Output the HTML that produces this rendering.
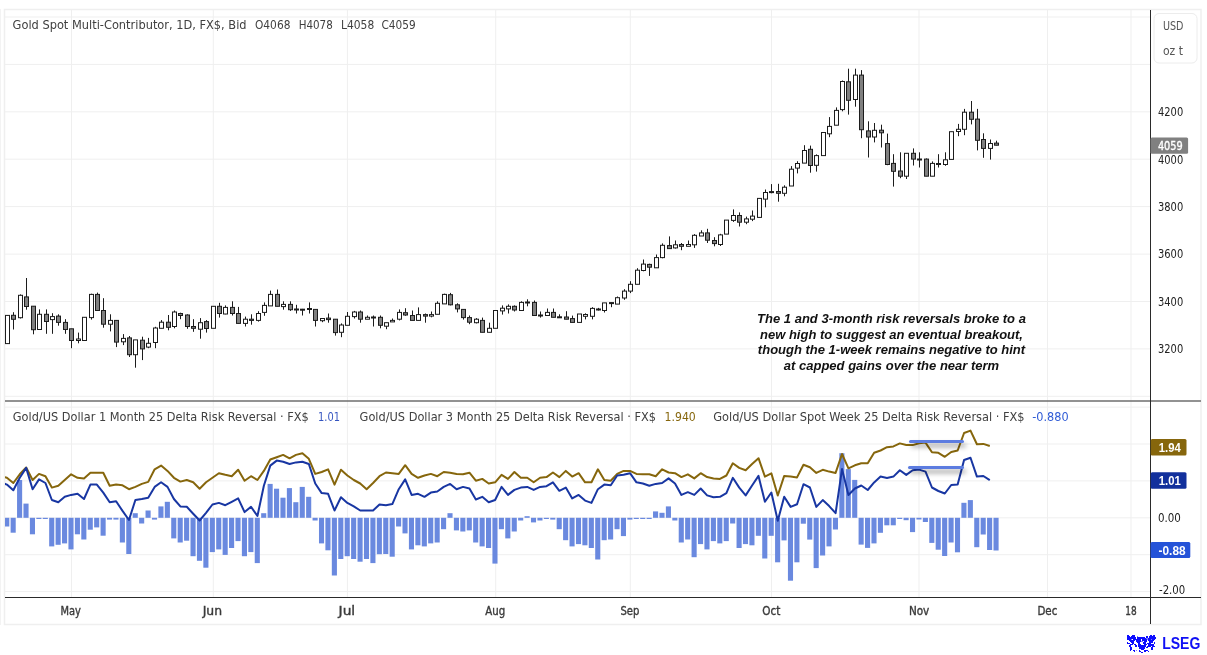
<!DOCTYPE html><html><head><meta charset="utf-8"><title>Gold Spot chart</title>
<style>html,body{margin:0;padding:0;background:#fff;width:1207px;height:655px;overflow:hidden}svg{display:block}text{white-space:pre}</style></head><body>
<svg width="1207" height="655" viewBox="0 0 1207 655">
<defs><clipPath id="cp1"><rect x="5" y="10" width="1145" height="390"/></clipPath><clipPath id="cp2"><rect x="5" y="402" width="1145" height="195"/></clipPath><filter id="sh" filterUnits="userSpaceOnUse" x="890" y="425" width="100" height="60"><feDropShadow dx="2" dy="4" stdDeviation="2.5" flood-color="#000" flood-opacity="0.42"/></filter></defs>
<rect x="0" y="0" width="1207" height="655" fill="#fff"/>
<line x1="0.5" y1="9" x2="0.5" y2="625" stroke="#f3f3f3" stroke-width="1"/>
<rect x="4.5" y="9.5" width="1196.5" height="615" fill="none" stroke="#efefef" stroke-width="1.5"/>
<g stroke="#efefef" stroke-width="1"><line x1="5" y1="17.0" x2="1150" y2="17.0"/><line x1="5" y1="64.4" x2="1150" y2="64.4"/><line x1="5" y1="111.8" x2="1150" y2="111.8"/><line x1="5" y1="159.2" x2="1150" y2="159.2"/><line x1="5" y1="206.6" x2="1150" y2="206.6"/><line x1="5" y1="254.1" x2="1150" y2="254.1"/><line x1="5" y1="301.5" x2="1150" y2="301.5"/><line x1="5" y1="348.9" x2="1150" y2="348.9"/><line x1="5" y1="396.3" x2="1150" y2="396.3"/><line x1="5" y1="407.1" x2="1150" y2="407.1"/><line x1="5" y1="444.0" x2="1150" y2="444.0"/><line x1="5" y1="480.9" x2="1150" y2="480.9"/><line x1="5" y1="517.8" x2="1150" y2="517.8"/><line x1="5" y1="554.7" x2="1150" y2="554.7"/><line x1="5" y1="591.6" x2="1150" y2="591.6"/><line x1="71.5" y1="10" x2="71.5" y2="597"/><line x1="213.3" y1="10" x2="213.3" y2="597"/><line x1="347.4" y1="10" x2="347.4" y2="597"/><line x1="495.7" y1="10" x2="495.7" y2="597"/><line x1="630.3" y1="10" x2="630.3" y2="597"/><line x1="771.5" y1="10" x2="771.5" y2="597"/><line x1="919" y1="10" x2="919" y2="597"/><line x1="1047.5" y1="10" x2="1047.5" y2="597"/><line x1="1131" y1="10" x2="1131" y2="597"/></g>
<g clip-path="url(#cp1)" stroke="#1c1c1c" stroke-width="1"><line x1="7.5" y1="315.0" x2="7.5" y2="344.0"/><line x1="13.5" y1="312.2" x2="13.5" y2="329.5"/><line x1="20.5" y1="294.4" x2="20.5" y2="318.5"/><line x1="26.5" y1="278.0" x2="26.5" y2="309.7"/><line x1="33.5" y1="306.2" x2="33.5" y2="334.3"/><line x1="39.5" y1="309.4" x2="39.5" y2="329.5"/><line x1="46.5" y1="309.4" x2="46.5" y2="333.8"/><line x1="52.5" y1="313.2" x2="52.5" y2="333.8"/><line x1="58.5" y1="314.3" x2="58.5" y2="325.7"/><line x1="65.5" y1="319.2" x2="65.5" y2="333.8"/><line x1="71.5" y1="328.8" x2="71.5" y2="348.2"/><line x1="78.5" y1="332.6" x2="78.5" y2="343.3"/><line x1="84.5" y1="317.0" x2="84.5" y2="340.5"/><line x1="91.5" y1="293.7" x2="91.5" y2="319.6"/><line x1="97.5" y1="292.6" x2="97.5" y2="311.0"/><line x1="103.5" y1="298.2" x2="103.5" y2="327.7"/><line x1="110.5" y1="314.3" x2="110.5" y2="331.4"/><line x1="116.5" y1="320.4" x2="116.5" y2="347.1"/><line x1="123.5" y1="334.1" x2="123.5" y2="345.1"/><line x1="129.5" y1="336.0" x2="129.5" y2="357.0"/><line x1="135.5" y1="339.9" x2="135.5" y2="367.7"/><line x1="142.5" y1="336.7" x2="142.5" y2="360.1"/><line x1="148.5" y1="337.9" x2="148.5" y2="348.2"/><line x1="155.5" y1="326.8" x2="155.5" y2="348.2"/><line x1="161.5" y1="320.1" x2="161.5" y2="328.3"/><line x1="168.5" y1="315.0" x2="168.5" y2="330.3"/><line x1="174.5" y1="310.5" x2="174.5" y2="328.3"/><line x1="180.5" y1="312.7" x2="180.5" y2="319.2"/><line x1="187.5" y1="314.3" x2="187.5" y2="328.8"/><line x1="193.5" y1="319.2" x2="193.5" y2="331.8"/><line x1="200.5" y1="318.1" x2="200.5" y2="338.7"/><line x1="206.5" y1="320.1" x2="206.5" y2="332.6"/><line x1="213.5" y1="306.0" x2="213.5" y2="328.3"/><line x1="219.5" y1="302.8" x2="219.5" y2="317.6"/><line x1="225.5" y1="305.4" x2="225.5" y2="314.3"/><line x1="232.5" y1="301.3" x2="232.5" y2="315.5"/><line x1="238.5" y1="306.9" x2="238.5" y2="323.4"/><line x1="245.5" y1="316.6" x2="245.5" y2="326.5"/><line x1="251.5" y1="314.3" x2="251.5" y2="324.7"/><line x1="258.5" y1="311.2" x2="258.5" y2="321.6"/><line x1="264.5" y1="302.4" x2="264.5" y2="315.8"/><line x1="270.5" y1="290.6" x2="270.5" y2="305.9"/><line x1="277.5" y1="289.5" x2="277.5" y2="306.3"/><line x1="283.5" y1="301.3" x2="283.5" y2="309.7"/><line x1="290.5" y1="301.3" x2="290.5" y2="310.9"/><line x1="296.5" y1="304.8" x2="296.5" y2="313.5"/><line x1="302.5" y1="308.9" x2="302.5" y2="315.5"/><line x1="309.5" y1="302.4" x2="309.5" y2="313.5"/><line x1="315.5" y1="309.4" x2="315.5" y2="326.5"/><line x1="322.5" y1="318.5" x2="322.5" y2="322.2"/><line x1="328.5" y1="313.5" x2="328.5" y2="322.7"/><line x1="335.5" y1="319.2" x2="335.5" y2="335.6"/><line x1="341.5" y1="323.4" x2="341.5" y2="337.2"/><line x1="347.5" y1="312.0" x2="347.5" y2="325.3"/><line x1="354.5" y1="310.9" x2="354.5" y2="318.5"/><line x1="360.5" y1="310.5" x2="360.5" y2="322.7"/><line x1="367.5" y1="315.5" x2="367.5" y2="319.2"/><line x1="373.5" y1="315.5" x2="373.5" y2="326.5"/><line x1="380.5" y1="315.5" x2="380.5" y2="328.3"/><line x1="386.5" y1="322.7" x2="386.5" y2="329.2"/><line x1="392.5" y1="318.5" x2="392.5" y2="321.9"/><line x1="399.5" y1="309.4" x2="399.5" y2="320.4"/><line x1="405.5" y1="308.2" x2="405.5" y2="315.8"/><line x1="412.5" y1="310.5" x2="412.5" y2="320.4"/><line x1="418.5" y1="307.4" x2="418.5" y2="320.4"/><line x1="425.5" y1="313.5" x2="425.5" y2="322.7"/><line x1="431.5" y1="311.5" x2="431.5" y2="317.3"/><line x1="437.5" y1="301.3" x2="437.5" y2="314.3"/><line x1="444.5" y1="293.7" x2="444.5" y2="303.9"/><line x1="450.5" y1="292.9" x2="450.5" y2="305.4"/><line x1="457.5" y1="303.3" x2="457.5" y2="312.4"/><line x1="463.5" y1="309.4" x2="463.5" y2="319.6"/><line x1="469.5" y1="315.5" x2="469.5" y2="324.2"/><line x1="476.5" y1="318.1" x2="476.5" y2="323.4"/><line x1="482.5" y1="317.6" x2="482.5" y2="332.3"/><line x1="489.5" y1="322.7" x2="489.5" y2="332.3"/><line x1="495.5" y1="310.5" x2="495.5" y2="328.3"/><line x1="502.5" y1="305.4" x2="502.5" y2="314.6"/><line x1="508.5" y1="304.4" x2="508.5" y2="313.5"/><line x1="514.5" y1="305.4" x2="514.5" y2="311.5"/><line x1="521.5" y1="301.3" x2="521.5" y2="310.5"/><line x1="527.5" y1="299.3" x2="527.5" y2="306.3"/><line x1="534.5" y1="300.5" x2="534.5" y2="315.5"/><line x1="540.5" y1="311.5" x2="540.5" y2="317.6"/><line x1="547.5" y1="308.5" x2="547.5" y2="315.5"/><line x1="553.5" y1="308.5" x2="553.5" y2="317.3"/><line x1="559.5" y1="314.3" x2="559.5" y2="317.6"/><line x1="566.5" y1="311.2" x2="566.5" y2="319.2"/><line x1="572.5" y1="315.6" x2="572.5" y2="322.4"/><line x1="579.5" y1="314.0" x2="579.5" y2="322.4"/><line x1="585.5" y1="313.3" x2="585.5" y2="319.4"/><line x1="592.5" y1="307.2" x2="592.5" y2="319.4"/><line x1="598.5" y1="307.9" x2="598.5" y2="310.5"/><line x1="604.5" y1="302.9" x2="604.5" y2="312.5"/><line x1="611.5" y1="302.6" x2="611.5" y2="307.2"/><line x1="617.5" y1="296.5" x2="617.5" y2="304.1"/><line x1="624.5" y1="289.2" x2="624.5" y2="299.8"/><line x1="630.5" y1="281.2" x2="630.5" y2="293.1"/><line x1="637.5" y1="268.2" x2="637.5" y2="284.3"/><line x1="643.5" y1="259.5" x2="643.5" y2="271.3"/><line x1="649.5" y1="263.7" x2="649.5" y2="275.9"/><line x1="656.5" y1="254.5" x2="656.5" y2="267.8"/><line x1="662.5" y1="243.4" x2="662.5" y2="258.3"/><line x1="669.5" y1="236.4" x2="669.5" y2="248.6"/><line x1="675.5" y1="240.5" x2="675.5" y2="248.6"/><line x1="681.5" y1="243.0" x2="681.5" y2="250.2"/><line x1="688.5" y1="240.5" x2="688.5" y2="246.3"/><line x1="694.5" y1="234.1" x2="694.5" y2="247.9"/><line x1="701.5" y1="230.3" x2="701.5" y2="236.0"/><line x1="707.5" y1="228.8" x2="707.5" y2="243.0"/><line x1="714.5" y1="237.2" x2="714.5" y2="246.3"/><line x1="720.5" y1="233.8" x2="720.5" y2="246.0"/><line x1="726.5" y1="220.1" x2="726.5" y2="234.1"/><line x1="733.5" y1="209.4" x2="733.5" y2="221.9"/><line x1="739.5" y1="212.4" x2="739.5" y2="226.5"/><line x1="746.5" y1="216.6" x2="746.5" y2="224.2"/><line x1="752.5" y1="210.5" x2="752.5" y2="221.1"/><line x1="759.5" y1="198.2" x2="759.5" y2="217.4"/><line x1="765.5" y1="189.5" x2="765.5" y2="207.3"/><line x1="771.5" y1="184.1" x2="771.5" y2="193.3"/><line x1="778.5" y1="183.8" x2="778.5" y2="201.7"/><line x1="784.5" y1="185.3" x2="784.5" y2="196.3"/><line x1="791.5" y1="166.1" x2="791.5" y2="186.0"/><line x1="797.5" y1="161.2" x2="797.5" y2="173.4"/><line x1="804.5" y1="145.2" x2="804.5" y2="163.1"/><line x1="810.5" y1="145.6" x2="810.5" y2="172.7"/><line x1="816.5" y1="154.4" x2="816.5" y2="171.6"/><line x1="823.5" y1="132.5" x2="823.5" y2="155.6"/><line x1="829.5" y1="117.1" x2="829.5" y2="137.2"/><line x1="836.5" y1="107.4" x2="836.5" y2="125.2"/><line x1="842.5" y1="80.5" x2="842.5" y2="111.3"/><line x1="848.5" y1="68.7" x2="848.5" y2="114.6"/><line x1="855.5" y1="68.7" x2="855.5" y2="106.7"/><line x1="861.5" y1="70.1" x2="861.5" y2="138.2"/><line x1="868.5" y1="121.3" x2="868.5" y2="157.5"/><line x1="874.5" y1="123.0" x2="874.5" y2="142.4"/><line x1="881.5" y1="124.7" x2="881.5" y2="147.5"/><line x1="887.5" y1="133.6" x2="887.5" y2="165.2"/><line x1="893.5" y1="154.2" x2="893.5" y2="186.6"/><line x1="900.5" y1="152.3" x2="900.5" y2="178.2"/><line x1="906.5" y1="153.3" x2="906.5" y2="179.0"/><line x1="913.5" y1="148.4" x2="913.5" y2="165.5"/><line x1="919.5" y1="152.3" x2="919.5" y2="167.5"/><line x1="926.5" y1="158.4" x2="926.5" y2="176.2"/><line x1="932.5" y1="161.4" x2="932.5" y2="176.2"/><line x1="938.5" y1="154.2" x2="938.5" y2="167.5"/><line x1="945.5" y1="152.3" x2="945.5" y2="165.8"/><line x1="951.5" y1="131.7" x2="951.5" y2="159.4"/><line x1="958.5" y1="123.9" x2="958.5" y2="136.2"/><line x1="964.5" y1="108.9" x2="964.5" y2="135.2"/><line x1="971.5" y1="101.0" x2="971.5" y2="124.4"/><line x1="977.5" y1="108.9" x2="977.5" y2="150.4"/><line x1="983.5" y1="133.3" x2="983.5" y2="157.8"/><line x1="990.5" y1="139.5" x2="990.5" y2="159.6"/><line x1="996.5" y1="140.7" x2="996.5" y2="145.4"/><rect x="5.5" y="315.4" width="4" height="28.2" fill="#fff"/><rect x="11.5" y="315.3" width="4" height="4.0" fill="#808080"/><rect x="18.5" y="295.3" width="4" height="22.4" fill="#fff"/><rect x="24.5" y="296.9" width="4" height="9.6" fill="#808080"/><rect x="31.5" y="306.2" width="4" height="23.5" fill="#808080"/><rect x="37.5" y="314.3" width="4" height="15.2" fill="#fff"/><rect x="44.5" y="314.3" width="4" height="7.2" fill="#808080"/><rect x="50.5" y="316.6" width="4" height="3.0" fill="#fff"/><rect x="56.5" y="316.1" width="4" height="6.3" fill="#808080"/><rect x="63.5" y="322.4" width="4" height="7.1" fill="#808080"/><rect x="69.5" y="328.8" width="4" height="11.7" fill="#808080"/><rect x="76.5" y="339.0" width="4" height="1.5" fill="#fff"/><rect x="82.5" y="317.3" width="4" height="23.2" fill="#fff"/><rect x="89.5" y="294.4" width="4" height="23.2" fill="#fff"/><rect x="95.5" y="294.4" width="4" height="16.1" fill="#808080"/><rect x="101.5" y="310.5" width="4" height="13.7" fill="#808080"/><rect x="108.5" y="320.4" width="4" height="3.8" fill="#fff"/><rect x="114.5" y="320.4" width="4" height="21.7" fill="#808080"/><rect x="121.5" y="338.4" width="4" height="3.4" fill="#fff"/><rect x="127.5" y="337.9" width="4" height="16.8" fill="#808080"/><rect x="133.5" y="339.9" width="4" height="14.8" fill="#fff"/><rect x="140.5" y="340.2" width="4" height="8.7" fill="#808080"/><rect x="146.5" y="343.3" width="4" height="3.8" fill="#fff"/><rect x="153.5" y="328.0" width="4" height="14.5" fill="#fff"/><rect x="159.5" y="322.2" width="4" height="6.1" fill="#fff"/><rect x="166.5" y="322.2" width="4" height="5.1" fill="#808080"/><rect x="172.5" y="312.0" width="4" height="14.5" fill="#fff"/><rect x="178.5" y="313.5" width="4" height="2.0" fill="#808080"/><rect x="185.5" y="315.0" width="4" height="11.5" fill="#808080"/><rect x="191.5" y="326.5" width="4" height="1.8" fill="#808080"/><rect x="198.5" y="322.7" width="4" height="6.5" fill="#fff"/><rect x="204.5" y="321.6" width="4" height="6.9" fill="#808080"/><rect x="211.5" y="306.3" width="4" height="22.0" fill="#fff"/><rect x="217.5" y="306.3" width="4" height="7.2" fill="#808080"/><rect x="223.5" y="307.4" width="4" height="6.6" fill="#fff"/><rect x="230.5" y="307.4" width="4" height="6.1" fill="#808080"/><rect x="236.5" y="313.5" width="4" height="9.9" fill="#808080"/><rect x="243.5" y="319.2" width="4" height="4.2" fill="#fff"/><rect x="249.5" y="319.2" width="4" height="1.2" fill="#808080"/><rect x="256.5" y="313.5" width="4" height="6.9" fill="#fff"/><rect x="262.5" y="305.4" width="4" height="7.0" fill="#fff"/><rect x="268.5" y="294.4" width="4" height="11.5" fill="#fff"/><rect x="275.5" y="294.4" width="4" height="11.9" fill="#808080"/><rect x="281.5" y="304.4" width="4" height="2.2" fill="#fff"/><rect x="288.5" y="304.4" width="4" height="5.3" fill="#808080"/><rect x="294.5" y="309.0" width="4" height="1.0" fill="#808080"/><rect x="300.5" y="309.2" width="4" height="1.0" fill="#808080"/><rect x="307.5" y="308.5" width="4" height="1.0" fill="#808080"/><rect x="313.5" y="309.4" width="4" height="11.0" fill="#808080"/><rect x="320.5" y="318.5" width="4" height="2.2" fill="#fff"/><rect x="326.5" y="318.1" width="4" height="1.5" fill="#808080"/><rect x="333.5" y="319.2" width="4" height="13.4" fill="#808080"/><rect x="339.5" y="325.0" width="4" height="7.3" fill="#fff"/><rect x="345.5" y="316.3" width="4" height="9.0" fill="#fff"/><rect x="352.5" y="312.0" width="4" height="4.6" fill="#fff"/><rect x="358.5" y="312.0" width="4" height="7.2" fill="#808080"/><rect x="365.5" y="317.3" width="4" height="1.9" fill="#fff"/><rect x="371.5" y="317.0" width="4" height="1.0" fill="#808080"/><rect x="378.5" y="317.3" width="4" height="8.0" fill="#808080"/><rect x="384.5" y="322.7" width="4" height="3.5" fill="#fff"/><rect x="390.5" y="320.4" width="4" height="1.5" fill="#fff"/><rect x="397.5" y="312.4" width="4" height="6.8" fill="#fff"/><rect x="403.5" y="312.7" width="4" height="2.3" fill="#808080"/><rect x="410.5" y="315.5" width="4" height="4.9" fill="#808080"/><rect x="416.5" y="314.6" width="4" height="5.8" fill="#fff"/><rect x="423.5" y="314.6" width="4" height="1.5" fill="#808080"/><rect x="429.5" y="314.6" width="4" height="1.5" fill="#fff"/><rect x="435.5" y="303.3" width="4" height="11.0" fill="#fff"/><rect x="442.5" y="294.4" width="4" height="9.5" fill="#fff"/><rect x="448.5" y="294.7" width="4" height="10.1" fill="#808080"/><rect x="455.5" y="304.8" width="4" height="4.1" fill="#808080"/><rect x="461.5" y="309.4" width="4" height="8.2" fill="#808080"/><rect x="467.5" y="317.6" width="4" height="4.6" fill="#808080"/><rect x="474.5" y="319.2" width="4" height="3.5" fill="#fff"/><rect x="480.5" y="320.4" width="4" height="11.9" fill="#808080"/><rect x="487.5" y="328.3" width="4" height="4.0" fill="#fff"/><rect x="493.5" y="310.5" width="4" height="17.8" fill="#fff"/><rect x="500.5" y="308.2" width="4" height="2.7" fill="#fff"/><rect x="506.5" y="306.3" width="4" height="2.6" fill="#fff"/><rect x="512.5" y="306.3" width="4" height="3.7" fill="#808080"/><rect x="519.5" y="302.4" width="4" height="8.1" fill="#fff"/><rect x="525.5" y="302.0" width="4" height="1.0" fill="#808080"/><rect x="532.5" y="302.4" width="4" height="13.1" fill="#808080"/><rect x="538.5" y="315.0" width="4" height="1.0" fill="#808080"/><rect x="545.5" y="312.4" width="4" height="3.1" fill="#fff"/><rect x="551.5" y="312.4" width="4" height="4.9" fill="#808080"/><rect x="557.5" y="316.8" width="4" height="1.0" fill="#808080"/><rect x="564.5" y="317.0" width="4" height="2.2" fill="#808080"/><rect x="570.5" y="318.6" width="4" height="3.8" fill="#808080"/><rect x="577.5" y="314.0" width="4" height="8.4" fill="#fff"/><rect x="583.5" y="314.5" width="4" height="1.8" fill="#fff"/><rect x="590.5" y="308.4" width="4" height="7.9" fill="#fff"/><rect x="596.5" y="309.0" width="4" height="1.0" fill="#808080"/><rect x="602.5" y="302.9" width="4" height="7.6" fill="#fff"/><rect x="609.5" y="302.6" width="4" height="1.0" fill="#808080"/><rect x="615.5" y="297.7" width="4" height="6.4" fill="#fff"/><rect x="622.5" y="291.1" width="4" height="6.9" fill="#fff"/><rect x="628.5" y="284.3" width="4" height="6.8" fill="#fff"/><rect x="635.5" y="270.2" width="4" height="14.1" fill="#fff"/><rect x="641.5" y="264.1" width="4" height="6.4" fill="#fff"/><rect x="647.5" y="264.4" width="4" height="2.8" fill="#808080"/><rect x="654.5" y="257.6" width="4" height="10.2" fill="#fff"/><rect x="660.5" y="245.3" width="4" height="12.3" fill="#fff"/><rect x="667.5" y="245.6" width="4" height="3.0" fill="#808080"/><rect x="673.5" y="244.8" width="4" height="3.1" fill="#fff"/><rect x="679.5" y="244.5" width="4" height="1.8" fill="#808080"/><rect x="686.5" y="244.5" width="4" height="1.8" fill="#fff"/><rect x="692.5" y="235.3" width="4" height="9.5" fill="#fff"/><rect x="699.5" y="232.9" width="4" height="3.1" fill="#fff"/><rect x="705.5" y="232.9" width="4" height="7.3" fill="#808080"/><rect x="712.5" y="240.5" width="4" height="3.1" fill="#808080"/><rect x="718.5" y="234.9" width="4" height="9.6" fill="#fff"/><rect x="724.5" y="220.1" width="4" height="14.0" fill="#fff"/><rect x="731.5" y="215.5" width="4" height="4.9" fill="#fff"/><rect x="737.5" y="215.5" width="4" height="6.7" fill="#808080"/><rect x="744.5" y="218.9" width="4" height="3.3" fill="#fff"/><rect x="750.5" y="216.1" width="4" height="3.1" fill="#fff"/><rect x="757.5" y="198.4" width="4" height="19.0" fill="#fff"/><rect x="763.5" y="192.5" width="4" height="6.6" fill="#fff"/><rect x="769.5" y="191.6" width="4" height="1.0" fill="#808080"/><rect x="776.5" y="191.5" width="4" height="1.8" fill="#808080"/><rect x="782.5" y="187.2" width="4" height="6.1" fill="#fff"/><rect x="789.5" y="169.2" width="4" height="16.8" fill="#fff"/><rect x="795.5" y="163.5" width="4" height="4.6" fill="#fff"/><rect x="802.5" y="150.5" width="4" height="12.6" fill="#fff"/><rect x="808.5" y="149.3" width="4" height="16.2" fill="#808080"/><rect x="814.5" y="155.6" width="4" height="9.7" fill="#fff"/><rect x="821.5" y="132.5" width="4" height="23.1" fill="#fff"/><rect x="827.5" y="126.4" width="4" height="7.4" fill="#fff"/><rect x="834.5" y="110.4" width="4" height="14.8" fill="#fff"/><rect x="840.5" y="81.5" width="4" height="28.1" fill="#fff"/><rect x="846.5" y="81.8" width="4" height="18.5" fill="#808080"/><rect x="853.5" y="75.1" width="4" height="24.4" fill="#fff"/><rect x="859.5" y="75.1" width="4" height="54.6" fill="#808080"/><rect x="866.5" y="130.9" width="4" height="6.1" fill="#808080"/><rect x="872.5" y="130.3" width="4" height="6.7" fill="#fff"/><rect x="879.5" y="130.2" width="4" height="2.6" fill="#808080"/><rect x="885.5" y="143.6" width="4" height="20.9" fill="#808080"/><rect x="891.5" y="163.4" width="4" height="7.9" fill="#808080"/><rect x="898.5" y="171.0" width="4" height="5.2" fill="#808080"/><rect x="904.5" y="153.3" width="4" height="22.9" fill="#fff"/><rect x="911.5" y="153.3" width="4" height="5.8" fill="#808080"/><rect x="917.5" y="159.0" width="4" height="1.0" fill="#808080"/><rect x="924.5" y="159.1" width="4" height="17.1" fill="#808080"/><rect x="930.5" y="163.4" width="4" height="12.8" fill="#fff"/><rect x="936.5" y="163.5" width="4" height="1.0" fill="#808080"/><rect x="943.5" y="159.8" width="4" height="4.7" fill="#fff"/><rect x="949.5" y="131.7" width="4" height="27.7" fill="#fff"/><rect x="956.5" y="129.3" width="4" height="2.2" fill="#fff"/><rect x="962.5" y="112.2" width="4" height="17.1" fill="#fff"/><rect x="969.5" y="112.2" width="4" height="7.1" fill="#808080"/><rect x="975.5" y="119.1" width="4" height="21.2" fill="#808080"/><rect x="981.5" y="139.5" width="4" height="8.9" fill="#808080"/><rect x="988.5" y="143.5" width="4" height="4.9" fill="#fff"/><rect x="994.5" y="143.1" width="4" height="2.1" fill="#808080"/></g>
<g clip-path="url(#cp2)"><g fill="#6a89df"><rect x="4.20" y="517.8" width="5.1" height="8.7"/><rect x="10.62" y="517.8" width="5.1" height="14.9"/><rect x="17.05" y="480.0" width="5.1" height="37.8"/><rect x="23.47" y="503.6" width="5.1" height="14.2"/><rect x="29.90" y="517.8" width="5.1" height="16.5"/><rect x="36.32" y="517.8" width="5.1" height="1.2"/><rect x="42.74" y="517.8" width="5.1" height="1.2"/><rect x="49.17" y="517.8" width="5.1" height="28.6"/><rect x="55.59" y="517.8" width="5.1" height="27.0"/><rect x="62.02" y="517.8" width="5.1" height="25.6"/><rect x="68.44" y="517.8" width="5.1" height="31.6"/><rect x="74.86" y="517.8" width="5.1" height="16.5"/><rect x="81.29" y="517.8" width="5.1" height="21.7"/><rect x="87.71" y="517.8" width="5.1" height="11.9"/><rect x="94.14" y="517.8" width="5.1" height="9.6"/><rect x="100.56" y="517.8" width="5.1" height="17.9"/><rect x="106.98" y="517.8" width="5.1" height="1.8"/><rect x="113.41" y="517.8" width="5.1" height="1.8"/><rect x="119.83" y="517.8" width="5.1" height="24.7"/><rect x="126.26" y="517.8" width="5.1" height="36.2"/><rect x="132.68" y="513.2" width="5.1" height="4.6"/><rect x="139.10" y="517.8" width="5.1" height="5.7"/><rect x="145.53" y="510.5" width="5.1" height="7.3"/><rect x="151.95" y="517.8" width="5.1" height="1.8"/><rect x="158.38" y="506.4" width="5.1" height="11.4"/><rect x="164.80" y="501.8" width="5.1" height="16.0"/><rect x="171.22" y="517.8" width="5.1" height="20.6"/><rect x="177.65" y="517.8" width="5.1" height="24.7"/><rect x="184.07" y="517.8" width="5.1" height="22.9"/><rect x="190.50" y="517.8" width="5.1" height="38.4"/><rect x="196.92" y="517.8" width="5.1" height="43.0"/><rect x="203.34" y="517.8" width="5.1" height="49.9"/><rect x="209.77" y="517.8" width="5.1" height="34.3"/><rect x="216.19" y="517.8" width="5.1" height="31.6"/><rect x="222.62" y="517.8" width="5.1" height="37.1"/><rect x="229.04" y="517.8" width="5.1" height="30.2"/><rect x="235.46" y="517.8" width="5.1" height="23.3"/><rect x="241.89" y="517.8" width="5.1" height="38.4"/><rect x="248.31" y="517.8" width="5.1" height="34.3"/><rect x="254.74" y="517.8" width="5.1" height="45.3"/><rect x="261.16" y="513.2" width="5.1" height="4.6"/><rect x="267.58" y="483.9" width="5.1" height="33.9"/><rect x="274.01" y="488.7" width="5.1" height="29.1"/><rect x="280.43" y="497.7" width="5.1" height="20.1"/><rect x="286.86" y="488.1" width="5.1" height="29.7"/><rect x="293.28" y="502.2" width="5.1" height="15.6"/><rect x="299.70" y="486.9" width="5.1" height="30.9"/><rect x="306.13" y="496.8" width="5.1" height="21.0"/><rect x="312.55" y="517.8" width="5.1" height="2.7"/><rect x="318.98" y="517.8" width="5.1" height="25.6"/><rect x="325.40" y="517.8" width="5.1" height="32.5"/><rect x="331.82" y="517.8" width="5.1" height="57.7"/><rect x="338.25" y="517.8" width="5.1" height="41.2"/><rect x="344.67" y="517.8" width="5.1" height="38.4"/><rect x="351.10" y="517.8" width="5.1" height="41.2"/><rect x="357.52" y="517.8" width="5.1" height="43.9"/><rect x="363.94" y="517.8" width="5.1" height="41.2"/><rect x="370.37" y="517.8" width="5.1" height="45.3"/><rect x="376.79" y="517.8" width="5.1" height="36.4"/><rect x="383.22" y="517.8" width="5.1" height="36.2"/><rect x="389.64" y="517.8" width="5.1" height="38.9"/><rect x="396.06" y="517.8" width="5.1" height="8.7"/><rect x="402.49" y="517.8" width="5.1" height="15.6"/><rect x="408.91" y="517.8" width="5.1" height="31.6"/><rect x="415.34" y="517.8" width="5.1" height="27.5"/><rect x="421.76" y="517.8" width="5.1" height="28.6"/><rect x="428.18" y="517.8" width="5.1" height="25.6"/><rect x="434.61" y="517.8" width="5.1" height="24.7"/><rect x="441.03" y="517.8" width="5.1" height="11.4"/><rect x="447.46" y="513.2" width="5.1" height="4.6"/><rect x="453.88" y="517.8" width="5.1" height="12.6"/><rect x="460.30" y="517.8" width="5.1" height="13.7"/><rect x="466.73" y="517.8" width="5.1" height="12.6"/><rect x="473.15" y="517.8" width="5.1" height="24.7"/><rect x="479.58" y="517.8" width="5.1" height="28.6"/><rect x="486.00" y="517.8" width="5.1" height="30.2"/><rect x="492.42" y="517.8" width="5.1" height="45.8"/><rect x="498.85" y="517.8" width="5.1" height="11.4"/><rect x="505.27" y="517.8" width="5.1" height="20.6"/><rect x="511.70" y="517.8" width="5.1" height="13.7"/><rect x="518.12" y="517.8" width="5.1" height="2.7"/><rect x="524.54" y="516.2" width="5.1" height="1.6"/><rect x="530.97" y="517.8" width="5.1" height="4.6"/><rect x="537.39" y="517.8" width="5.1" height="2.7"/><rect x="543.82" y="517.8" width="5.1" height="1.2"/><rect x="550.24" y="517.8" width="5.1" height="1.8"/><rect x="556.66" y="517.8" width="5.1" height="11.4"/><rect x="563.09" y="517.8" width="5.1" height="22.4"/><rect x="569.51" y="517.8" width="5.1" height="28.6"/><rect x="575.94" y="517.8" width="5.1" height="26.3"/><rect x="582.36" y="517.8" width="5.1" height="27.5"/><rect x="588.78" y="517.8" width="5.1" height="30.2"/><rect x="595.21" y="517.8" width="5.1" height="41.7"/><rect x="601.63" y="517.8" width="5.1" height="22.4"/><rect x="608.06" y="517.8" width="5.1" height="21.7"/><rect x="614.48" y="517.8" width="5.1" height="11.4"/><rect x="620.90" y="517.8" width="5.1" height="18.3"/><rect x="627.33" y="517.8" width="5.1" height="1.8"/><rect x="633.75" y="517.8" width="5.1" height="1.2"/><rect x="640.18" y="517.8" width="5.1" height="1.2"/><rect x="646.60" y="517.8" width="5.1" height="1.2"/><rect x="653.02" y="511.4" width="5.1" height="6.4"/><rect x="659.45" y="512.8" width="5.1" height="5.0"/><rect x="665.87" y="506.4" width="5.1" height="11.4"/><rect x="672.30" y="517.8" width="5.1" height="2.7"/><rect x="678.72" y="517.8" width="5.1" height="24.7"/><rect x="685.14" y="517.8" width="5.1" height="21.7"/><rect x="691.57" y="517.8" width="5.1" height="39.4"/><rect x="697.99" y="517.8" width="5.1" height="26.3"/><rect x="704.42" y="517.8" width="5.1" height="31.6"/><rect x="710.84" y="517.8" width="5.1" height="23.3"/><rect x="717.26" y="517.8" width="5.1" height="25.6"/><rect x="723.69" y="517.8" width="5.1" height="23.3"/><rect x="730.11" y="517.8" width="5.1" height="5.7"/><rect x="736.54" y="517.8" width="5.1" height="30.2"/><rect x="742.96" y="517.8" width="5.1" height="26.3"/><rect x="749.38" y="517.8" width="5.1" height="27.5"/><rect x="755.81" y="517.8" width="5.1" height="18.0"/><rect x="762.23" y="517.8" width="5.1" height="40.7"/><rect x="768.66" y="517.8" width="5.1" height="18.0"/><rect x="775.08" y="517.8" width="5.1" height="44.5"/><rect x="781.50" y="517.8" width="5.1" height="22.6"/><rect x="787.93" y="517.8" width="5.1" height="62.9"/><rect x="794.35" y="517.8" width="5.1" height="44.5"/><rect x="800.78" y="517.8" width="5.1" height="5.9"/><rect x="807.20" y="517.8" width="5.1" height="21.8"/><rect x="813.62" y="517.8" width="5.1" height="50.3"/><rect x="820.05" y="517.8" width="5.1" height="37.7"/><rect x="826.47" y="517.8" width="5.1" height="28.6"/><rect x="832.90" y="517.8" width="5.1" height="11.7"/><rect x="839.32" y="453.2" width="5.1" height="64.6"/><rect x="845.74" y="469.1" width="5.1" height="48.7"/><rect x="852.17" y="479.9" width="5.1" height="37.9"/><rect x="858.59" y="517.8" width="5.1" height="26.8"/><rect x="865.02" y="517.8" width="5.1" height="30.1"/><rect x="871.44" y="517.8" width="5.1" height="25.6"/><rect x="877.86" y="517.8" width="5.1" height="15.0"/><rect x="884.29" y="517.8" width="5.1" height="7.5"/><rect x="890.71" y="517.8" width="5.1" height="7.5"/><rect x="897.14" y="517.8" width="5.1" height="1.2"/><rect x="903.56" y="517.8" width="5.1" height="2.4"/><rect x="909.98" y="517.8" width="5.1" height="14.3"/><rect x="916.41" y="517.8" width="5.1" height="1.7"/><rect x="922.83" y="517.8" width="5.1" height="4.2"/><rect x="929.26" y="517.8" width="5.1" height="25.1"/><rect x="935.68" y="517.8" width="5.1" height="31.9"/><rect x="942.10" y="517.8" width="5.1" height="38.2"/><rect x="948.53" y="517.8" width="5.1" height="24.7"/><rect x="954.95" y="517.8" width="5.1" height="34.5"/><rect x="961.38" y="502.8" width="5.1" height="15.0"/><rect x="967.80" y="500.1" width="5.1" height="17.7"/><rect x="974.22" y="517.8" width="5.1" height="29.4"/><rect x="980.65" y="517.8" width="5.1" height="16.7"/><rect x="987.07" y="517.8" width="5.1" height="32.2"/><rect x="993.50" y="517.8" width="5.1" height="32.7"/></g><polyline points="0.48,476.0 6.90,477.8 13.32,483.0 19.75,474.3 26.17,467.5 32.60,480.0 39.02,473.9 45.44,476.2 51.87,487.6 58.29,485.8 64.72,480.0 71.14,474.3 77.56,477.8 83.99,478.4 90.41,472.7 96.84,472.7 103.26,472.7 109.68,485.8 116.11,484.6 122.53,485.3 128.96,489.2 135.38,486.9 141.80,483.9 148.23,481.9 154.65,469.3 161.08,465.6 167.50,470.9 173.92,477.8 180.35,481.6 186.77,480.0 193.20,482.3 199.62,488.7 206.04,482.3 212.47,477.8 218.89,473.2 225.32,474.8 231.74,476.2 238.16,469.7 244.59,480.7 251.01,476.2 257.44,480.0 263.86,470.9 270.28,459.5 276.71,457.2 283.13,454.9 289.56,458.3 295.98,454.9 302.40,453.3 308.83,458.8 315.25,473.9 321.68,472.0 328.10,469.3 334.52,484.6 340.95,469.7 347.37,475.5 353.80,480.0 360.22,483.5 366.64,489.2 373.07,483.0 379.49,476.2 385.92,472.5 392.34,473.2 398.76,473.9 405.19,465.2 411.61,473.9 418.04,477.8 424.46,475.5 430.88,473.9 437.31,476.2 443.73,472.0 450.16,472.7 456.58,473.9 463.00,474.3 469.43,472.7 475.85,480.7 482.28,478.9 488.70,483.5 495.12,482.3 501.55,474.8 507.97,478.9 514.40,472.0 520.82,477.8 527.24,477.8 533.67,482.3 540.09,477.8 546.52,477.1 552.94,472.5 559.36,477.1 565.79,470.9 572.21,476.6 578.64,473.2 585.06,482.3 591.48,482.3 597.91,469.3 604.33,480.0 610.76,480.7 617.18,473.9 623.60,470.9 630.03,470.9 636.45,473.9 642.88,474.3 649.30,474.3 655.72,476.2 662.15,469.3 668.57,472.5 675.00,473.2 681.42,477.1 687.84,474.3 694.27,478.4 700.69,473.2 707.12,477.1 713.54,478.4 719.96,478.9 726.39,475.5 732.81,463.3 739.24,467.9 745.66,470.2 752.08,464.0 758.51,458.2 764.93,476.6 771.36,473.4 777.78,495.5 784.20,475.9 790.63,476.6 797.05,477.4 803.48,464.8 809.90,467.3 816.32,472.9 822.75,469.8 829.17,471.6 835.60,472.9 842.02,454.0 848.44,468.3 854.87,465.3 861.29,463.3 867.72,463.3 874.14,452.7 880.56,450.5 886.99,447.2 893.41,446.4 899.84,443.4 906.26,445.0 912.68,445.1 919.11,443.2 925.53,442.6 931.96,452.2 938.38,452.8 944.80,456.8 951.23,452.0 957.65,450.5 964.08,433.0 970.50,430.6 976.92,444.2 983.35,443.9 989.77,446.0" fill="none" stroke="#86660c" stroke-width="2" stroke-linejoin="round"/><polyline points="0.48,482.0 6.90,484.6 13.32,490.3 19.75,477.8 26.17,467.9 32.60,489.2 39.02,479.4 45.44,483.0 51.87,500.0 58.29,502.2 64.72,496.8 71.14,494.9 77.56,493.8 83.99,499.0 90.41,484.6 96.84,484.6 103.26,492.6 109.68,502.2 116.11,501.3 122.53,510.9 128.96,520.0 135.38,500.0 141.80,499.0 148.23,497.7 154.65,486.9 161.08,482.3 167.50,486.9 173.92,499.0 180.35,506.4 186.77,506.8 193.20,513.7 199.62,520.5 206.04,512.8 212.47,504.5 218.89,502.9 225.32,505.2 231.74,501.8 238.16,498.4 244.59,512.1 251.01,506.8 257.44,516.0 263.86,485.8 270.28,465.6 276.71,460.6 283.13,461.7 289.56,464.0 295.98,462.4 302.40,461.7 308.83,464.0 315.25,483.5 321.68,493.1 328.10,493.8 334.52,510.5 340.95,497.2 347.37,502.9 353.80,506.4 360.22,510.5 366.64,510.5 373.07,510.5 379.49,504.5 385.92,505.2 392.34,504.1 398.76,489.2 405.19,479.4 411.61,494.9 418.04,493.8 424.46,496.8 430.88,492.6 437.31,491.5 443.73,486.9 450.16,483.9 456.58,489.2 463.00,486.9 469.43,488.5 475.85,499.5 482.28,496.8 488.70,502.2 495.12,500.0 501.55,486.9 507.97,494.9 514.40,489.9 520.82,487.6 527.24,486.9 533.67,489.9 540.09,486.9 546.52,486.2 552.94,482.3 559.36,490.8 565.79,487.6 572.21,498.4 578.64,494.9 585.06,500.6 591.48,502.9 597.91,489.2 604.33,484.6 610.76,485.3 617.18,475.5 623.60,474.8 630.03,473.2 636.45,482.3 642.88,483.5 649.30,485.8 655.72,483.9 662.15,483.0 668.57,478.4 675.00,483.5 681.42,494.9 687.84,492.2 694.27,494.9 700.69,488.5 707.12,495.4 713.54,497.2 719.96,496.8 726.39,493.1 732.81,477.8 739.24,487.6 745.66,495.4 752.08,485.5 758.51,475.9 764.93,501.8 771.36,492.5 777.78,520.7 784.20,496.8 790.63,506.9 797.05,504.3 803.48,484.2 809.90,487.5 816.32,506.9 822.75,500.1 829.17,506.1 835.60,513.2 842.02,469.1 848.44,495.0 854.87,488.5 861.29,485.5 867.72,490.0 874.14,482.4 880.56,476.6 886.99,477.9 893.41,476.6 899.84,470.3 906.26,474.9 912.68,470.3 919.11,469.6 925.53,471.6 931.96,487.5 938.38,491.0 944.80,493.5 951.23,485.0 957.65,484.6 964.08,460.0 970.50,457.8 976.92,476.6 983.35,476.0 989.77,480.2" fill="none" stroke="#1836a2" stroke-width="2" stroke-linejoin="round"/><g filter="url(#sh)"><line x1="910.5" y1="441.5" x2="962.5" y2="441.5" stroke="#5b7ce0" stroke-width="3" stroke-linecap="round"/></g><g filter="url(#sh)"><line x1="909.5" y1="467.4" x2="962.5" y2="467.4" stroke="#5b7ce0" stroke-width="3" stroke-linecap="round"/></g></g>
<line x1="5" y1="401" x2="1201" y2="401" stroke="#6e6e6e" stroke-width="1.6"/>
<line x1="1150.5" y1="10" x2="1150.5" y2="624" stroke="#2a2a2a" stroke-width="1"/>
<line x1="5" y1="597.5" x2="1201" y2="597.5" stroke="#2a2a2a" stroke-width="1"/>
<text x="12.6" y="29" font-family="'DejaVu Sans Condensed','DejaVu Sans','Liberation Sans',sans-serif" font-size="12.3" fill="#404040" font-weight="normal" font-style="normal" text-anchor="start" textLength="234" lengthAdjust="spacingAndGlyphs">Gold Spot Multi-Contributor, 1D, FX$, Bid</text>
<text x="255" y="29" font-family="'DejaVu Sans Condensed','DejaVu Sans','Liberation Sans',sans-serif" font-size="12.3" fill="#404040" font-weight="normal" font-style="normal" text-anchor="start" textLength="35.4" lengthAdjust="spacingAndGlyphs">O4068</text>
<text x="298.7" y="29" font-family="'DejaVu Sans Condensed','DejaVu Sans','Liberation Sans',sans-serif" font-size="12.3" fill="#404040" font-weight="normal" font-style="normal" text-anchor="start" textLength="34.1" lengthAdjust="spacingAndGlyphs">H4078</text>
<text x="341" y="29" font-family="'DejaVu Sans Condensed','DejaVu Sans','Liberation Sans',sans-serif" font-size="12.3" fill="#404040" font-weight="normal" font-style="normal" text-anchor="start" textLength="33.2" lengthAdjust="spacingAndGlyphs">L4058</text>
<text x="381.5" y="29" font-family="'DejaVu Sans Condensed','DejaVu Sans','Liberation Sans',sans-serif" font-size="12.3" fill="#404040" font-weight="normal" font-style="normal" text-anchor="start" textLength="34.2" lengthAdjust="spacingAndGlyphs">C4059</text>
<text x="12.8" y="420.5" font-family="'DejaVu Sans Condensed','DejaVu Sans','Liberation Sans',sans-serif" font-size="12.3" fill="#404040" font-weight="normal" font-style="normal" text-anchor="start" textLength="295.9" lengthAdjust="spacingAndGlyphs">Gold/US Dollar 1 Month 25 Delta Risk Reversal · FX$</text>
<text x="318" y="420.5" font-family="'DejaVu Sans Condensed','DejaVu Sans','Liberation Sans',sans-serif" font-size="12.3" fill="#3555c0" font-weight="normal" font-style="normal" text-anchor="start" textLength="21.9" lengthAdjust="spacingAndGlyphs">1.01</text>
<text x="359.6" y="420.5" font-family="'DejaVu Sans Condensed','DejaVu Sans','Liberation Sans',sans-serif" font-size="12.3" fill="#404040" font-weight="normal" font-style="normal" text-anchor="start" textLength="296.4" lengthAdjust="spacingAndGlyphs">Gold/US Dollar 3 Month 25 Delta Risk Reversal · FX$</text>
<text x="664.6" y="420.5" font-family="'DejaVu Sans Condensed','DejaVu Sans','Liberation Sans',sans-serif" font-size="12.3" fill="#86660c" font-weight="normal" font-style="normal" text-anchor="start" textLength="31.2" lengthAdjust="spacingAndGlyphs">1.940</text>
<text x="713.2" y="420.5" font-family="'DejaVu Sans Condensed','DejaVu Sans','Liberation Sans',sans-serif" font-size="12.3" fill="#404040" font-weight="normal" font-style="normal" text-anchor="start" textLength="311.4" lengthAdjust="spacingAndGlyphs">Gold/US Dollar Spot Week 25 Delta Risk Reversal · FX$</text>
<text x="1032.2" y="420.5" font-family="'DejaVu Sans Condensed','DejaVu Sans','Liberation Sans',sans-serif" font-size="12.3" fill="#2f5bd6" font-weight="normal" font-style="normal" text-anchor="start" textLength="36.4" lengthAdjust="spacingAndGlyphs">-0.880</text>
<text x="1158" y="116.1" font-family="'DejaVu Sans Condensed','DejaVu Sans','Liberation Sans',sans-serif" font-size="12" fill="#222" font-weight="normal" font-style="normal" text-anchor="start" textLength="25.2" lengthAdjust="spacingAndGlyphs">4200</text>
<text x="1158" y="210.9" font-family="'DejaVu Sans Condensed','DejaVu Sans','Liberation Sans',sans-serif" font-size="12" fill="#222" font-weight="normal" font-style="normal" text-anchor="start" textLength="25.2" lengthAdjust="spacingAndGlyphs">3800</text>
<text x="1158" y="258.4" font-family="'DejaVu Sans Condensed','DejaVu Sans','Liberation Sans',sans-serif" font-size="12" fill="#222" font-weight="normal" font-style="normal" text-anchor="start" textLength="25.2" lengthAdjust="spacingAndGlyphs">3600</text>
<text x="1158" y="305.8" font-family="'DejaVu Sans Condensed','DejaVu Sans','Liberation Sans',sans-serif" font-size="12" fill="#222" font-weight="normal" font-style="normal" text-anchor="start" textLength="25.2" lengthAdjust="spacingAndGlyphs">3400</text>
<text x="1158" y="353.2" font-family="'DejaVu Sans Condensed','DejaVu Sans','Liberation Sans',sans-serif" font-size="12" fill="#222" font-weight="normal" font-style="normal" text-anchor="start" textLength="25.2" lengthAdjust="spacingAndGlyphs">3200</text>
<text x="1158" y="163.5" font-family="'DejaVu Sans Condensed','DejaVu Sans','Liberation Sans',sans-serif" font-size="12" fill="#222" font-weight="normal" font-style="normal" text-anchor="start" textLength="25.2" lengthAdjust="spacingAndGlyphs">4000</text>
<rect x="1154" y="13.5" width="43" height="49.5" rx="5" fill="#fff" stroke="#ececec" stroke-width="1"/>
<text x="1163" y="30" font-family="'DejaVu Sans Condensed','DejaVu Sans','Liberation Sans',sans-serif" font-size="12" fill="#555" font-weight="normal" font-style="normal" text-anchor="start" textLength="20.5" lengthAdjust="spacingAndGlyphs">USD</text>
<text x="1163" y="55" font-family="'DejaVu Sans Condensed','DejaVu Sans','Liberation Sans',sans-serif" font-size="12" fill="#555" font-weight="normal" font-style="normal" text-anchor="start" textLength="20" lengthAdjust="spacingAndGlyphs">oz t</text>
<rect x="1150.5" y="137.5" width="37.6" height="16.2" rx="1.5" fill="#808080"/>
<text x="1157.9" y="150" font-family="'DejaVu Sans Condensed','DejaVu Sans','Liberation Sans',sans-serif" font-size="12" fill="#fff" font-weight="normal" font-style="normal" text-anchor="start" textLength="24.9" lengthAdjust="spacingAndGlyphs" stroke="#fff" stroke-width="0.35">4059</text>
<rect x="1150.7" y="439.1" width="35.8" height="16.3" rx="1.5" fill="#86660c"/>
<text x="1158.8" y="451.8" font-family="'Liberation Sans',Arial,sans-serif" font-size="12" fill="#fff" font-weight="bold" font-style="normal" text-anchor="start" textLength="22" lengthAdjust="spacingAndGlyphs">1.94</text>
<rect x="1150.7" y="472.2" width="35.8" height="16.5" rx="1.5" fill="#12309c"/>
<text x="1158.8" y="485" font-family="'Liberation Sans',Arial,sans-serif" font-size="12" fill="#fff" font-weight="bold" font-style="normal" text-anchor="start" textLength="22" lengthAdjust="spacingAndGlyphs">1.01</text>
<text x="1158" y="522" font-family="'DejaVu Sans Condensed','DejaVu Sans','Liberation Sans',sans-serif" font-size="12" fill="#222" font-weight="normal" font-style="normal" text-anchor="start" textLength="22.9" lengthAdjust="spacingAndGlyphs">0.00</text>
<rect x="1150.5" y="542" width="39.8" height="15.9" rx="1.5" fill="#2553d8"/>
<text x="1158.6" y="554.6" font-family="'Liberation Sans',Arial,sans-serif" font-size="12" fill="#fff" font-weight="bold" font-style="normal" text-anchor="start" textLength="27" lengthAdjust="spacingAndGlyphs">-0.88</text>
<text x="1159" y="594" font-family="'DejaVu Sans Condensed','DejaVu Sans','Liberation Sans',sans-serif" font-size="12" fill="#222" font-weight="normal" font-style="normal" text-anchor="start" textLength="26.2" lengthAdjust="spacingAndGlyphs">-2.00</text>
<text x="60.4" y="614.5" font-family="'DejaVu Sans Condensed','DejaVu Sans','Liberation Sans',sans-serif" font-size="12" fill="#3a3a3a" font-weight="normal" font-style="normal" text-anchor="start" textLength="20.4" lengthAdjust="spacingAndGlyphs" stroke="#3a3a3a" stroke-width="0.35">May</text>
<text x="202.7" y="614.5" font-family="'DejaVu Sans Condensed','DejaVu Sans','Liberation Sans',sans-serif" font-size="12" fill="#3a3a3a" font-weight="normal" font-style="normal" text-anchor="start" textLength="19.4" lengthAdjust="spacingAndGlyphs" stroke="#3a3a3a" stroke-width="0.35">Jun</text>
<text x="338.6" y="614.5" font-family="'DejaVu Sans Condensed','DejaVu Sans','Liberation Sans',sans-serif" font-size="12" fill="#3a3a3a" font-weight="normal" font-style="normal" text-anchor="start" textLength="16.6" lengthAdjust="spacingAndGlyphs" stroke="#3a3a3a" stroke-width="0.35">Jul</text>
<text x="485.3" y="614.5" font-family="'DejaVu Sans Condensed','DejaVu Sans','Liberation Sans',sans-serif" font-size="12" fill="#3a3a3a" font-weight="normal" font-style="normal" text-anchor="start" textLength="19.9" lengthAdjust="spacingAndGlyphs" stroke="#3a3a3a" stroke-width="0.35">Aug</text>
<text x="620.4" y="614.5" font-family="'DejaVu Sans Condensed','DejaVu Sans','Liberation Sans',sans-serif" font-size="12" fill="#3a3a3a" font-weight="normal" font-style="normal" text-anchor="start" textLength="18.9" lengthAdjust="spacingAndGlyphs" stroke="#3a3a3a" stroke-width="0.35">Sep</text>
<text x="762.2" y="614.5" font-family="'DejaVu Sans Condensed','DejaVu Sans','Liberation Sans',sans-serif" font-size="12" fill="#3a3a3a" font-weight="normal" font-style="normal" text-anchor="start" textLength="18.1" lengthAdjust="spacingAndGlyphs" stroke="#3a3a3a" stroke-width="0.35">Oct</text>
<text x="908.9" y="614.5" font-family="'DejaVu Sans Condensed','DejaVu Sans','Liberation Sans',sans-serif" font-size="12" fill="#3a3a3a" font-weight="normal" font-style="normal" text-anchor="start" textLength="20.4" lengthAdjust="spacingAndGlyphs" stroke="#3a3a3a" stroke-width="0.35">Nov</text>
<text x="1037.4" y="614.5" font-family="'DejaVu Sans Condensed','DejaVu Sans','Liberation Sans',sans-serif" font-size="12" fill="#3a3a3a" font-weight="normal" font-style="normal" text-anchor="start" textLength="19.9" lengthAdjust="spacingAndGlyphs" stroke="#3a3a3a" stroke-width="0.35">Dec</text>
<text x="1125.2" y="614.5" font-family="'DejaVu Sans Condensed','DejaVu Sans','Liberation Sans',sans-serif" font-size="12" fill="#3a3a3a" font-weight="normal" font-style="normal" text-anchor="start" textLength="11.4" lengthAdjust="spacingAndGlyphs" stroke="#3a3a3a" stroke-width="0.35">18</text>
<text x="891.5" y="323.1" font-family="'Liberation Sans',Arial,sans-serif" font-size="13" fill="#111" font-weight="bold" font-style="italic" text-anchor="middle">The 1 and 3-month risk reversals broke to a</text>
<text x="891.5" y="338.75" font-family="'Liberation Sans',Arial,sans-serif" font-size="13" fill="#111" font-weight="bold" font-style="italic" text-anchor="middle">new high to suggest an eventual breakout,</text>
<text x="891.5" y="354.40000000000003" font-family="'Liberation Sans',Arial,sans-serif" font-size="13" fill="#111" font-weight="bold" font-style="italic" text-anchor="middle">though the 1-week remains negative to hint</text>
<text x="891.5" y="370.05" font-family="'Liberation Sans',Arial,sans-serif" font-size="13" fill="#111" font-weight="bold" font-style="italic" text-anchor="middle">at capped gains over the near term</text>
<text x="1162.2" y="649.3" font-family="'Liberation Sans',Arial,sans-serif" font-size="16" fill="#1010f5" font-weight="bold" font-style="normal" text-anchor="start" textLength="38.2" lengthAdjust="spacingAndGlyphs">LSEG</text>
<defs><filter id="lb" x="-5%" y="-5%" width="110%" height="110%"><feGaussianBlur stdDeviation="0.45"/></filter></defs>
<g fill="#0a0aff" filter="url(#lb)"><rect x="1127" y="635" width="2" height="1"/><rect x="1132" y="635" width="3" height="1"/><rect x="1150" y="635" width="2" height="1"/><rect x="1153" y="635" width="2" height="1"/><rect x="1127" y="636" width="3" height="1"/><rect x="1131" y="636" width="4" height="1"/><rect x="1146" y="636" width="2" height="1"/><rect x="1149" y="636" width="6" height="1"/><rect x="1127" y="637" width="9" height="1"/><rect x="1137" y="637" width="8" height="1"/><rect x="1146" y="637" width="2" height="1"/><rect x="1149" y="637" width="7" height="1"/><rect x="1127" y="638" width="9" height="1"/><rect x="1137" y="638" width="9" height="1"/><rect x="1148" y="638" width="8" height="1"/><rect x="1127" y="639" width="4" height="1"/><rect x="1133" y="639" width="8" height="1"/><rect x="1142" y="639" width="5" height="1"/><rect x="1148" y="639" width="3" height="1"/><rect x="1152" y="639" width="3" height="1"/><rect x="1129" y="640" width="6" height="1"/><rect x="1136" y="640" width="5" height="1"/><rect x="1142" y="640" width="5" height="1"/><rect x="1148" y="640" width="6" height="1"/><rect x="1130" y="641" width="4" height="1"/><rect x="1136" y="641" width="5" height="1"/><rect x="1144" y="641" width="3" height="1"/><rect x="1149" y="641" width="4" height="1"/><rect x="1127" y="642" width="1" height="1"/><rect x="1131" y="642" width="3" height="1"/><rect x="1137" y="642" width="3" height="1"/><rect x="1143" y="642" width="3" height="1"/><rect x="1149" y="642" width="4" height="1"/><rect x="1154" y="642" width="1" height="1"/><rect x="1127" y="643" width="3" height="1"/><rect x="1132" y="643" width="2" height="1"/><rect x="1138" y="643" width="2" height="1"/><rect x="1143" y="643" width="3" height="1"/><rect x="1147" y="643" width="4" height="1"/><rect x="1154" y="643" width="1" height="1"/><rect x="1130" y="644" width="3" height="1"/><rect x="1134" y="644" width="2" height="1"/><rect x="1138" y="644" width="3" height="1"/><rect x="1144" y="644" width="3" height="1"/><rect x="1148" y="644" width="6" height="1"/><rect x="1129" y="645" width="2" height="1"/><rect x="1135" y="645" width="2" height="1"/><rect x="1138" y="645" width="8" height="1"/><rect x="1148" y="645" width="6" height="1"/><rect x="1129" y="646" width="2" height="1"/><rect x="1135" y="646" width="2" height="1"/><rect x="1138" y="646" width="8" height="1"/><rect x="1147" y="646" width="4" height="1"/><rect x="1152" y="646" width="3" height="1"/><rect x="1130" y="647" width="2" height="1"/><rect x="1139" y="647" width="6" height="1"/><rect x="1146" y="647" width="2" height="1"/><rect x="1151" y="647" width="2" height="1"/><rect x="1130" y="648" width="2" height="1"/><rect x="1139" y="648" width="6" height="1"/><rect x="1151" y="648" width="2" height="1"/><rect x="1130" y="649" width="2" height="1"/><rect x="1141" y="649" width="3" height="1"/><rect x="1151" y="649" width="2" height="1"/><rect x="1130" y="650" width="1" height="1"/><rect x="1133" y="650" width="2" height="1"/><rect x="1139" y="650" width="1" height="1"/><rect x="1144" y="650" width="2" height="1"/><rect x="1146" y="650" width="2" height="1"/><rect x="1134" y="651" width="1" height="1"/><rect x="1139" y="651" width="2" height="1"/><rect x="1144" y="651" width="2" height="1"/><rect x="1148" y="651" width="1" height="1"/><rect x="1141" y="652" width="2" height="1"/><g fill="#8080ff"><rect x="1137" y="636" width="1" height="1"/><rect x="1146" y="638" width="1" height="1"/><rect x="1147" y="638" width="1" height="1"/><rect x="1131" y="639" width="1" height="1"/><rect x="1147" y="639" width="1" height="1"/><rect x="1151" y="639" width="1" height="1"/><rect x="1141" y="641" width="1" height="1"/><rect x="1142" y="641" width="1" height="1"/><rect x="1136" y="650" width="1" height="1"/></g></g>
</svg></body></html>
